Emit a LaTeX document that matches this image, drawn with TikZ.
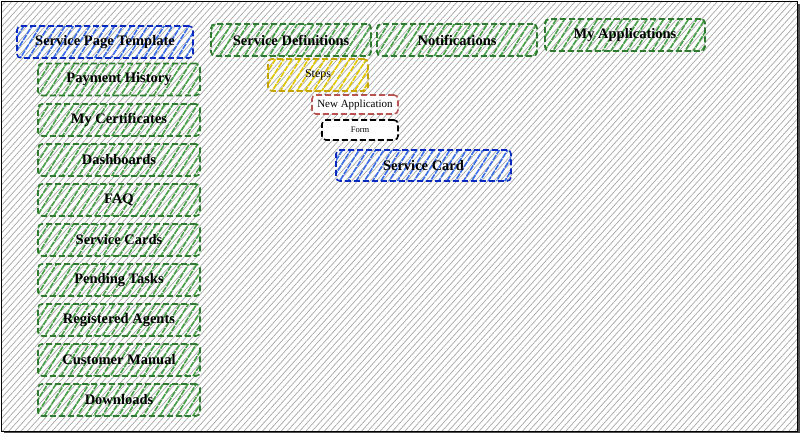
\documentclass[tikz,border=0pt]{standalone}
\usepackage{fontspec}
\setmainfont{Liberation Serif}
\usetikzlibrary{patterns.meta}
\definecolor{grnline}{HTML}{2E7A2E}
\definecolor{grnfill}{HTML}{46A046}
\definecolor{bluline}{HTML}{0A2ABF}
\definecolor{blufill}{HTML}{3A6EE8}
\definecolor{ylwline}{HTML}{C8A400}
\definecolor{ylwfill}{HTML}{E3C800}
\definecolor{redline}{HTML}{B85450}
\tikzset{
  page/.style={rounded corners=4pt, dash pattern=on 6pt off 3pt, line width=1.6pt,
    inner sep=0pt, font=\fontsize{14.5}{16}\selectfont\bfseries},
  greenbox/.style={page, draw=grnline, minimum width=162pt, minimum height=32pt,
    pattern={Lines[angle=58,distance=7pt,line width=1.6pt]}, pattern color=grnfill},
  bluebox/.style={page, draw=bluline, minimum height=32pt,
    pattern={Lines[angle=58,distance=7pt,line width=1.6pt]}, pattern color=blufill},
  yellowbox/.style={page, draw=ylwline, minimum width=100pt, minimum height=32pt,
    font=\fontsize{12}{14}\selectfont,
    pattern={Lines[angle=58,distance=7pt,line width=1.6pt]}, pattern color=ylwfill},
  smallbox/.style={page, fill=white, minimum height=20pt}
}
\begin{document}
\begin{tikzpicture}[x=1pt,y=-1pt]
  \useasboundingbox (0,0) rectangle (802,434);
  % sketchy background
  \fill[black!70] (4,4) rectangle (800,433);
  \fill[white] (1,1) rectangle (797,431);
  \fill[pattern={Lines[angle=48,distance=4.6pt,line width=0.7pt]}, pattern color=black!35]
    (1,1) rectangle (797,431);
  \draw[line width=0.8pt] (1,1) rectangle (797,431);
  % left column
  \draw
    (105,42) node[bluebox, minimum width=176pt] (tmpl) {Service Page Template}
    (119,79.5) node[greenbox] (pay) {Payment History}
    (119,120) node[greenbox] (cert) {My Certificates}
    (119,160) node[greenbox] (dash) {Dashboards}
    (119,200) node[greenbox] (faq) {FAQ}
    (119,240) node[greenbox] (cards) {Service Cards}
    (119,280) node[greenbox] (tasks) {Pending Tasks}
    (119,320) node[greenbox] (agents) {Registered Agents}
    (119,360) node[greenbox] (manual) {Customer Manual}
    (119,400) node[greenbox] (down) {Downloads};
  % top row
  \draw
    (291,40) node[greenbox, minimum width=160pt] (defs) {Service Definitions}
    (457,40) node[greenbox, minimum width=160pt] (notif) {Notifications}
    (625,35) node[greenbox, minimum width=160pt] (apps) {My Applications};
  % service definition parts
  \draw
    (318,75) node[yellowbox] (steps) {Steps}
    (355,104.5) node[smallbox, draw=redline, minimum width=86pt, minimum height=19pt,
      font=\fontsize{11}{12}\selectfont] (newapp) {New Application}
    (360,130) node[smallbox, draw=black, minimum width=76pt,
      font=\fontsize{8.5}{10}\selectfont] (form) {Form}
    (423.5,165.5) node[bluebox, minimum width=175pt, minimum height=31pt] (card) {Service Card};
\end{tikzpicture}
\end{document}
